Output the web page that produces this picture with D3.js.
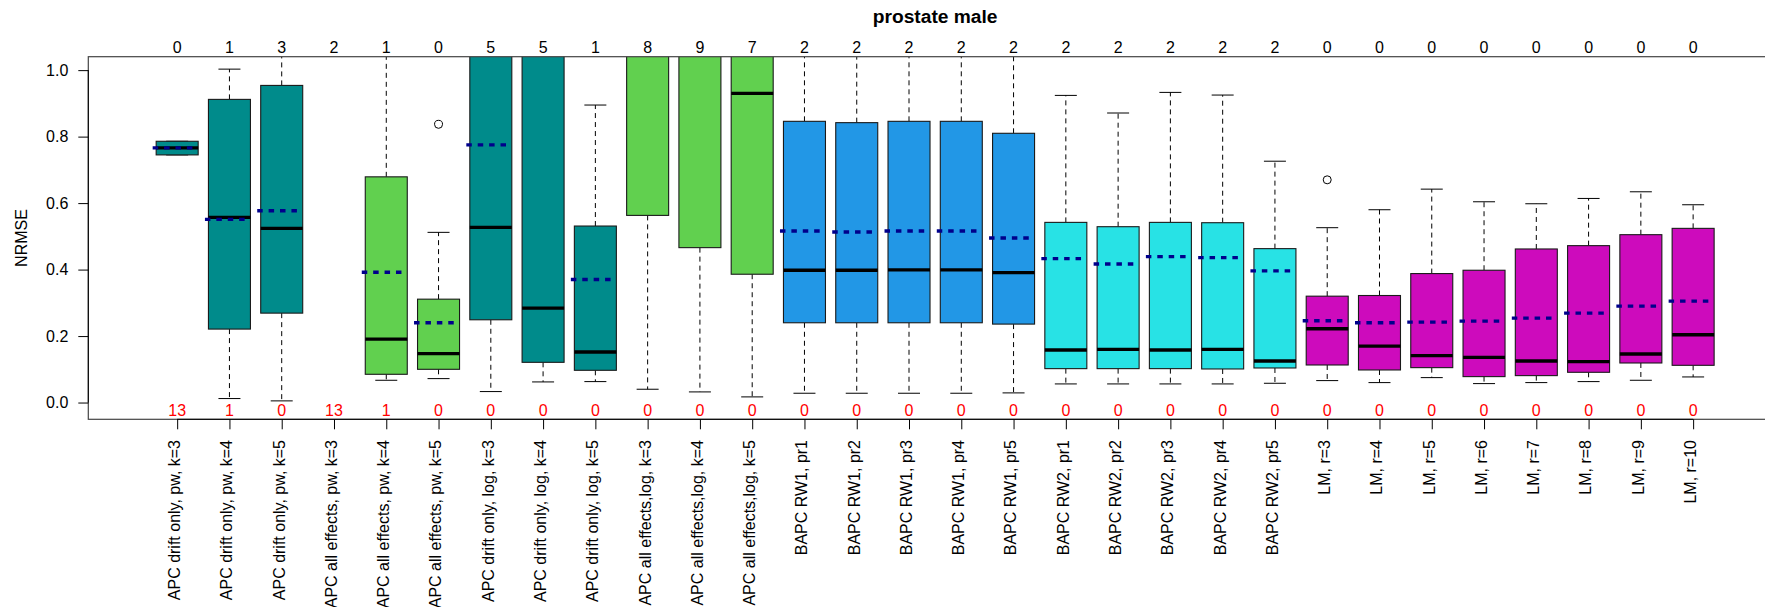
<!DOCTYPE html>
<html>
<head>
<meta charset="utf-8">
<script src="https://cdn.jsdelivr.net/npm/d3@7"></script>
<style>
  body { margin: 0; background: #fff; }
  text { font-family: "Liberation Sans", Arial, Helvetica, sans-serif; }
</style>
</head>
<body>
<svg id="chart" width="1765" height="607"></svg>
<script>
// ---- data -------------------------------------------------------------
const categories = [
  "APC drift only, pw, k=3", "APC drift only, pw, k=4", "APC drift only, pw, k=5",
  "APC all effects, pw, k=3", "APC all effects, pw, k=4", "APC all effects, pw, k=5",
  "APC drift only, log, k=3", "APC drift only, log, k=4", "APC drift only, log, k=5",
  "APC all effects,log, k=3", "APC all effects,log, k=4", "APC all effects,log, k=5",
  "BAPC RW1, pr1", "BAPC RW1, pr2", "BAPC RW1, pr3", "BAPC RW1, pr4", "BAPC RW1, pr5",
  "BAPC RW2, pr1", "BAPC RW2, pr2", "BAPC RW2, pr3", "BAPC RW2, pr4", "BAPC RW2, pr5",
  "LM, r=3", "LM, r=4", "LM, r=5", "LM, r=6", "LM, r=7", "LM, r=8", "LM, r=9", "LM, r=10"
];
const families = [
  "APC drift", "APC drift", "APC drift",
  "APC all", "APC all", "APC all",
  "APC drift", "APC drift", "APC drift",
  "APC all", "APC all", "APC all",
  "BAPC RW1", "BAPC RW1", "BAPC RW1", "BAPC RW1", "BAPC RW1",
  "BAPC RW2", "BAPC RW2", "BAPC RW2", "BAPC RW2", "BAPC RW2",
  "LM", "LM", "LM", "LM", "LM", "LM", "LM", "LM"
];
const lowerWhisker = [0.745, 0.012, 0.005, null, 0.067, 0.072, 0.033, 0.062, 0.063, 0.040, 0.032, 0.017,
  0.028, 0.028, 0.028, 0.028, 0.029, 0.056, 0.056, 0.056, 0.056, 0.058,
  0.066, 0.060, 0.075, 0.057, 0.060, 0.063, 0.067, 0.077];
const q1 = [0.745, 0.221, 0.269, null, 0.085, 0.100, 0.249, 0.121, 0.097, 0.563, 0.466, 0.386,
  0.240, 0.240, 0.240, 0.240, 0.236, 0.102, 0.102, 0.102, 0.101, 0.104,
  0.113, 0.098, 0.105, 0.078, 0.081, 0.091, 0.119, 0.112];
const medians = [0.766, 0.557, 0.524, null, 0.191, 0.147, 0.527, 0.284, 0.152, 1.20, 1.12, 0.930,
  0.398, 0.398, 0.399, 0.399, 0.391, 0.158, 0.160, 0.158, 0.160, 0.125,
  0.222, 0.170, 0.141, 0.136, 0.125, 0.123, 0.146, 0.204];
const q3 = [0.786, 0.912, 0.954, null, 0.679, 0.311, 1.35, 1.30, 0.531, 1.90, 1.80, 1.60,
  0.846, 0.842, 0.846, 0.846, 0.810, 0.542, 0.529, 0.542, 0.541, 0.463,
  0.320, 0.322, 0.388, 0.398, 0.462, 0.472, 0.505, 0.524];
const upperWhisker = [0.786, 1.003, 1.25, null, 1.30, 0.512, 2.4, 2.3, 0.895, 3.2, 3.0, 2.8,
  1.25, 1.25, 1.25, 1.25, 1.20, 0.924, 0.871, 0.933, 0.925, 0.726,
  0.526, 0.580, 0.642, 0.604, 0.598, 0.614, 0.634, 0.595];
const means = [0.766, 0.551, 0.577, null, 0.392, 0.240, 0.775, 1.15, 0.370, 1.5, 1.4, 1.2,
  0.516, 0.513, 0.516, 0.516, 0.495, 0.433, 0.417, 0.439, 0.436, 0.396,
  0.246, 0.240, 0.242, 0.245, 0.254, 0.269, 0.290, 0.305];
const outliers = [[], [], [], [], [], [0.837], [], [], [], [], [], [],
  [], [], [], [], [], [], [], [], [], [],
  [0.670], [], [], [], [], [], [], []];
const aboveCounts = [0, 1, 3, 2, 1, 0, 5, 5, 1, 8, 9, 7, 2, 2, 2, 2, 2, 2, 2, 2, 2, 2, 0, 0, 0, 0, 0, 0, 0, 0];
const failedCounts = [13, 1, 0, 13, 1, 0, 0, 0, 0, 0, 0, 0, 0, 0, 0, 0, 0, 0, 0, 0, 0, 0, 0, 0, 0, 0, 0, 0, 0, 0];
const yTicks = [0, 0.2, 0.4, 0.6, 0.8, 1.0];
const chartTitle = "prostate male";
const yTitle = "NRMSE";

// ---- layout -----------------------------------------------------------
const plot = { left: 88.3, right: 1782, top: 56.7, bottom: 419.3 };
const boxHalf = 21;
const stapleHalf = 11;

const svg = d3.select("#chart");
svg.append("rect").attr("width", 1765).attr("height", 607).attr("fill", "#fff");

const positions = categories.map((_, i) => i + 1);
const x = d3.scaleLinear().domain([-0.7, 31.7]).range([plot.left, plot.right]);
const y = d3.scaleLinear().domain([-0.0504, 1.0404]).range([plot.bottom, plot.top]);
const color = d3.scaleOrdinal()
  .domain(["APC drift", "APC all", "BAPC RW1", "BAPC RW2", "LM"])
  .range(["#008B8B", "#61D04F", "#2297E6", "#28E2E5", "#CD0BBC"]);

svg.append("clipPath").attr("id", "plotclip")
  .append("rect")
  .attr("x", plot.left).attr("y", plot.top)
  .attr("width", plot.right - plot.left).attr("height", plot.bottom - plot.top);

const stats = positions.map((p, i) => ({
  p, i,
  lw: lowerWhisker[i], q1: q1[i], med: medians[i], q3: q3[i], uw: upperWhisker[i],
  mean: means[i], out: outliers[i], fam: families[i]
})).filter(d => d.q1 !== null);

const g = svg.append("g").attr("clip-path", "url(#plotclip)");

// whiskers (dashed)
g.selectAll(".wlo").data(stats).join("line")
  .attr("x1", d => x(d.p)).attr("x2", d => x(d.p))
  .attr("y1", d => y(d.q1)).attr("y2", d => y(d.lw))
  .attr("stroke", "#000").attr("stroke-width", 1).attr("stroke-dasharray", "5,4");
g.selectAll(".whi").data(stats).join("line")
  .attr("x1", d => x(d.p)).attr("x2", d => x(d.p))
  .attr("y1", d => y(d.q3)).attr("y2", d => y(d.uw))
  .attr("stroke", "#000").attr("stroke-width", 1).attr("stroke-dasharray", "5,4");

// staples
["lw", "uw"].forEach(k => {
  g.selectAll(".st-" + k).data(stats).join("line")
    .attr("x1", d => x(d.p) - stapleHalf).attr("x2", d => x(d.p) + stapleHalf)
    .attr("y1", d => y(d[k])).attr("y2", d => y(d[k]))
    .attr("stroke", "#000").attr("stroke-width", 1);
});

// boxes
g.selectAll(".box").data(stats).join("rect")
  .attr("x", d => x(d.p) - boxHalf).attr("width", boxHalf * 2)
  .attr("y", d => y(d.q3)).attr("height", d => y(d.q1) - y(d.q3))
  .attr("fill", d => color(d.fam))
  .attr("stroke", "#1a1a1a").attr("stroke-width", 1.1);

// medians
g.selectAll(".med").data(stats).join("line")
  .attr("x1", d => x(d.p) - boxHalf).attr("x2", d => x(d.p) + boxHalf)
  .attr("y1", d => y(d.med)).attr("y2", d => y(d.med))
  .attr("stroke", "#000").attr("stroke-width", 3.3);

// outliers
const outPts = stats.flatMap(d => d.out.map(v => ({ p: d.p, v })));
g.selectAll(".out").data(outPts).join("circle")
  .attr("cx", d => x(d.p)).attr("cy", d => y(d.v)).attr("r", 4)
  .attr("fill", "none").attr("stroke", "#000").attr("stroke-width", 1);

// means (dotted)
g.selectAll(".mean").data(stats).join("line")
  .attr("x1", d => x(d.p) - 24.5).attr("x2", d => x(d.p) + 19)
  .attr("y1", d => y(d.mean)).attr("y2", d => y(d.mean))
  .attr("stroke", "#00008B").attr("stroke-width", 3.4)
  .attr("stroke-dasharray", "5.5,5.9");

// frame
svg.append("rect")
  .attr("x", plot.left).attr("y", plot.top)
  .attr("width", plot.right - plot.left).attr("height", plot.bottom - plot.top)
  .attr("fill", "none").attr("stroke", "#444").attr("stroke-width", 1.2);

// y axis
const yAxis = svg.append("g")
  .attr("transform", `translate(${plot.left},0)`)
  .call(d3.axisLeft(y).tickValues(yTicks).tickFormat(d3.format(".1f")).tickSize(10).tickPadding(10));
yAxis.select(".domain").attr("d", `M-10,${y(0)}H0V${y(1)}H-10`).attr("stroke", "#000");
yAxis.selectAll("text").attr("font-size", 16).attr("fill", "#000")
  .style("font-family", '"Liberation Sans", Arial, sans-serif');
yAxis.select(".domain").attr("d", `M0,${y(0)}V${y(1)}`);

// x axis with rotated labels
const xAxis = svg.append("g")
  .attr("transform", `translate(0,${plot.bottom})`)
  .call(d3.axisBottom(x).tickValues(positions).tickFormat(p => categories[p - 1]).tickSize(10));
xAxis.select(".domain").attr("d", `M${x(1)},0H${x(30)}`).attr("stroke", "#000");
xAxis.selectAll("text")
  .attr("font-size", 16).attr("fill", "#000")
  .style("font-family", '"Liberation Sans", Arial, sans-serif')
  .attr("transform", "rotate(-90)")
  .attr("text-anchor", "end")
  .attr("x", -20.7).attr("y", 0).attr("dy", "0.15em");

// counts above the plot
svg.append("g").selectAll("text").data(positions).join("text")
  .attr("x", p => x(p)).attr("y", 52.5)
  .attr("text-anchor", "middle").attr("font-size", 16).attr("fill", "#000")
  .text(p => aboveCounts[p - 1]);

// failed-run counts along the bottom
svg.append("g").selectAll("text").data(positions).join("text")
  .attr("x", p => x(p)).attr("y", 415.5)
  .attr("text-anchor", "middle").attr("font-size", 16).attr("fill", "#FF0000")
  .text(p => failedCounts[p - 1]);

// titles
svg.append("text")
  .attr("x", (plot.left + plot.right) / 2).attr("y", 22.7)
  .attr("text-anchor", "middle").attr("font-size", 19.2).attr("font-weight", "bold")
  .text(chartTitle);
svg.append("text")
  .attr("transform", `translate(21.8,${(plot.top + plot.bottom) / 2}) rotate(-90)`)
  .attr("text-anchor", "middle").attr("dy", "0.35em").attr("font-size", 16)
  .text(yTitle);
</script>
</body>
</html>
